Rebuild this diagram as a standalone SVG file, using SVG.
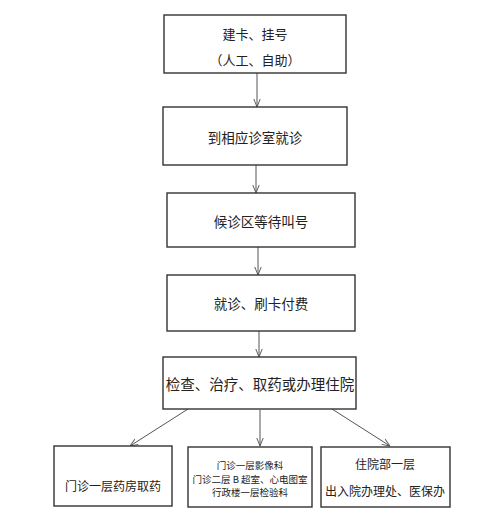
<svg xmlns="http://www.w3.org/2000/svg" width="500" height="521" viewBox="0 0 500 521">
<style>
.box{fill:#fff;stroke:#333;stroke-width:1.4}
.t{font-family:"Noto Sans CJK SC","Noto Sans",sans-serif;fill:#222;text-anchor:middle;dominant-baseline:central}
.c{stroke:#555;stroke-width:1;fill:none}
</style>
<defs>
<marker id="a" viewBox="0 0 10 10" refX="10" refY="5" markerWidth="8" markerHeight="8" orient="auto" markerUnits="userSpaceOnUse">
<path d="M0,1 L10,5 L0,9" fill="none" stroke="#555" stroke-width="1.2"/>
</marker>
</defs>
<rect width="500" height="521" fill="#fff"/>
<g id="connectors">
<line class="c" x1="257" y1="73" x2="257" y2="107" marker-end="url(#a)"/>
<line class="c" x1="256" y1="165" x2="256" y2="193" marker-end="url(#a)"/>
<line class="c" x1="258" y1="247" x2="258" y2="275" marker-end="url(#a)"/>
<line class="c" x1="259" y1="331" x2="259" y2="357" marker-end="url(#a)"/>
<line class="c" x1="188" y1="409" x2="130" y2="446" marker-end="url(#a)"/>
<line class="c" x1="260" y1="410" x2="260" y2="446" marker-end="url(#a)"/>
<line class="c" x1="332" y1="409" x2="390" y2="446" marker-end="url(#a)"/>
</g>
<g id="n1"><rect class="box" x="164" y="15" width="182" height="58"/>
<text class="t" x="255" y="33" font-size="13">建卡、挂号</text>
<text class="t" x="255" y="59" font-size="13">（人工、自助）</text></g>
<g id="n2"><rect class="box" x="163" y="107" width="184" height="58"/>
<text class="t" x="255" y="137" font-size="13.5">到相应诊室就诊</text></g>
<g id="n3"><rect class="box" x="167" y="193" width="188" height="54"/>
<text class="t" x="261" y="221" font-size="13.5">候诊区等待叫号</text></g>
<g id="n4"><rect class="box" x="167" y="275" width="188" height="56"/>
<text class="t" x="261" y="303" font-size="13.5">就诊、刷卡付费</text></g>
<g id="n5"><rect class="box" x="163" y="357" width="193" height="52"/>
<text class="t" x="260" y="383" font-size="14.5">检查、治疗、取药或办理住院</text></g>
<g id="n6"><rect class="box" x="54" y="446" width="118" height="60"/>
<text class="t" x="113" y="485" font-size="12">门诊一层药房取药</text></g>
<g id="n7"><rect class="box" x="188" y="447" width="124" height="60"/>
<text class="t" x="250" y="465" font-size="9.5">门诊一层影像科</text>
<text class="t" x="250" y="479" font-size="9.5">门诊二层 B 超室、心电图室</text>
<text class="t" x="250" y="492" font-size="9.5">行政楼一层检验科</text></g>
<g id="n8"><rect class="box" x="321" y="447" width="129" height="60"/>
<text class="t" x="385" y="463" font-size="12">住院部一层</text>
<text class="t" x="385" y="490" font-size="12">出入院办理处、医保办</text></g>
</svg>
